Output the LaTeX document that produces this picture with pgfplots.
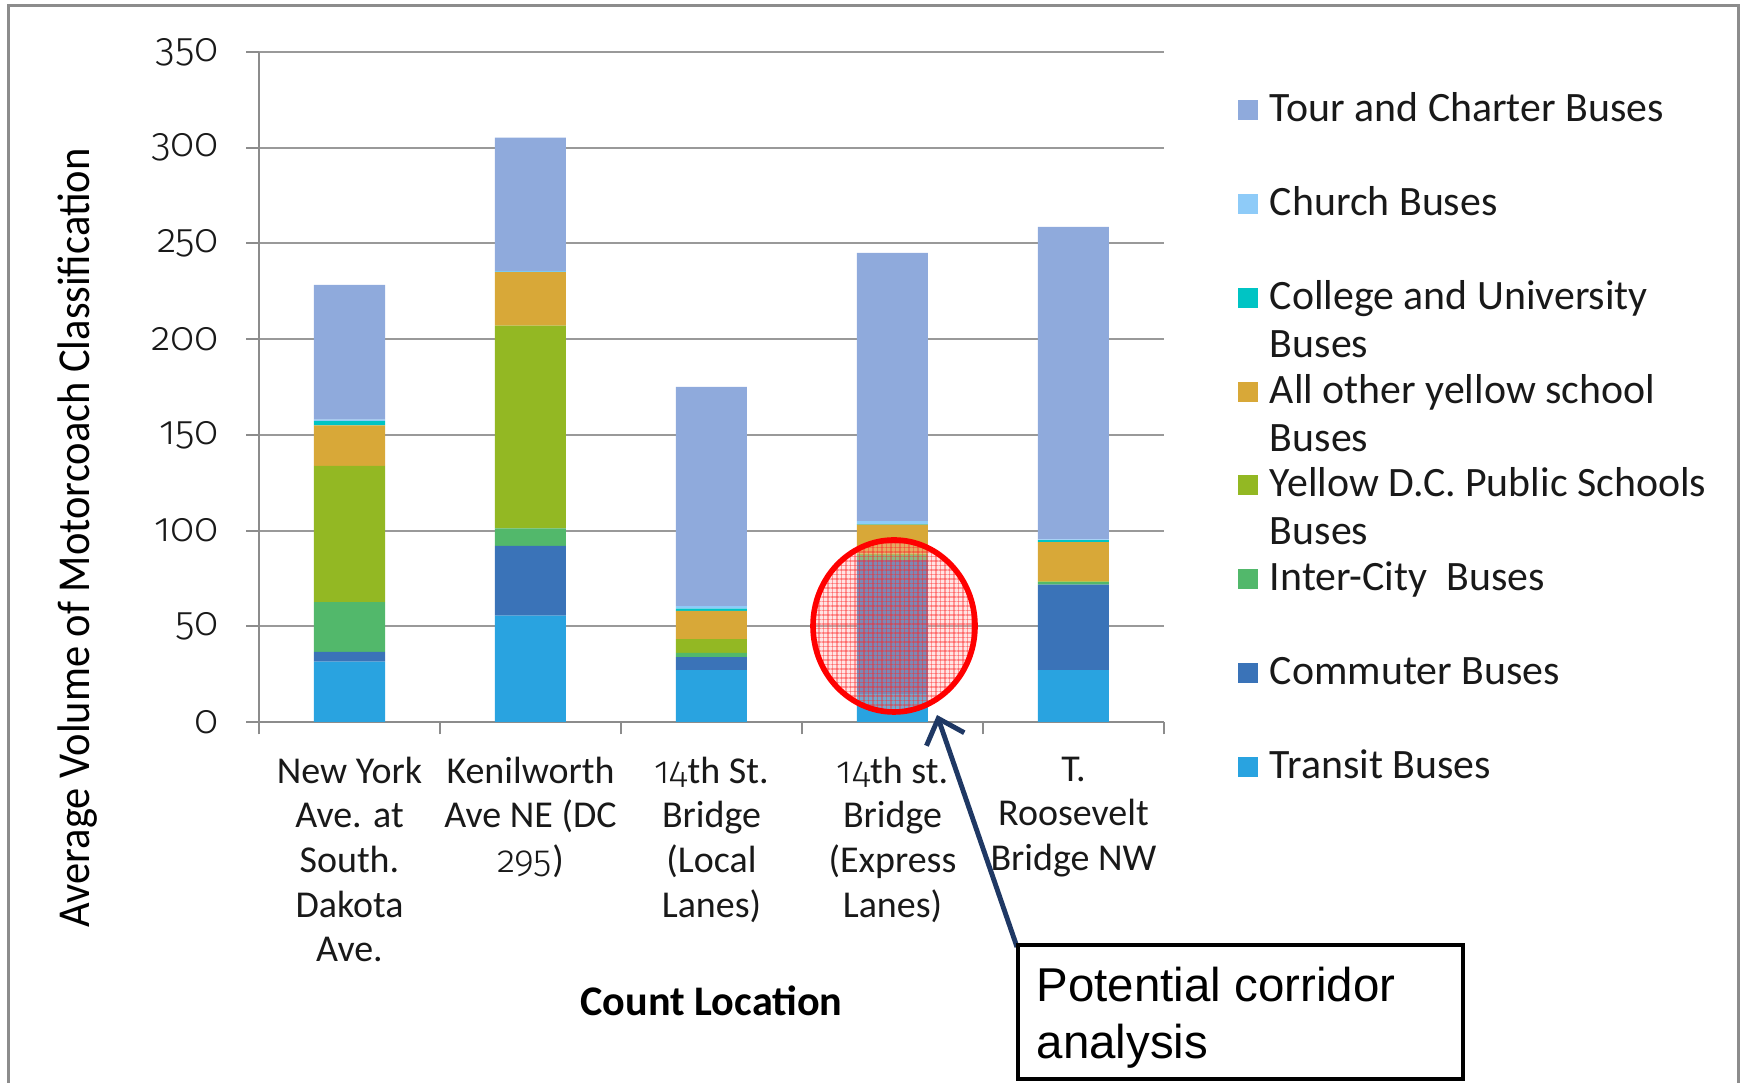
\documentclass[border=0pt]{standalone}
\usepackage{fontspec}
\setmainfont{Carlito}
\newfontfamily\numfont{Fira Sans Light}[Numbers=OldStyle]
\newfontfamily\arialfont{Liberation Sans}
\usepackage{pgfplots}
\pgfplotsset{compat=1.18}
\usetikzlibrary{patterns,patterns.meta,arrows.meta}

\definecolor{cTransit}{RGB}{41,163,224}
\definecolor{cCommuter}{RGB}{58,115,184}
\definecolor{cInter}{RGB}{82,184,107}
\definecolor{cYDC}{RGB}{147,184,35}
\definecolor{cOther}{RGB}{216,168,56}
\definecolor{cCollege}{RGB}{0,196,196}
\definecolor{cChurch}{RGB}{142,203,248}
\definecolor{cTour}{RGB}{143,170,220}
\definecolor{cArrow}{RGB}{31,56,100}

\newcommand{\lent}[1]{\smash{\raisebox{-1.4mm}{\parbox[t]{4.8cm}{\raggedright #1}}}}

\begin{document}
\begin{tikzpicture}[x=1cm,y=1cm]
\path[use as bounding box, clip] (0,0) rectangle (17.41,10.83);
\begin{axis}[
  at={(2.59cm,3.61cm)}, anchor=south west,
  scale only axis, width=9.05cm, height=6.70cm,
  ybar stacked, bar width=0.71cm,
  xmin=-0.5, xmax=4.5, ymin=0, ymax=350,
  ytick={0,50,...,350},
  xtick={-0.5,0.5,...,4.5},
  x tick label as interval,
  xticklabels={{New York\\Ave. at\\South.\\Dakota\\Ave.},{Kenilworth\\Ave NE (DC\\{\numfont 295})},{{\numfont 14}th St.\\Bridge\\(Local\\Lanes)},{{\numfont 14}th st.\\Bridge\\(Express\\Lanes)},{T.\\Roosevelt\\Bridge NW}},
  xticklabel style={align=center, font=\fontsize{10.8}{12.7}\selectfont, text=black!90, yshift=-1mm},
  yticklabel style={font=\numfont\fontsize{11.5}{13}\selectfont, text=black!90, xshift=-1.5mm},
  /pgf/number format/assume math mode=true,
  tick align=outside, major tick length=1.25mm,
  tick style={draw=black!45, line width=0.6pt},
  axis x line*=bottom, axis y line*=left,
  axis line style={draw=black!45, line width=0.6pt, -},
  ymajorgrids, major grid style={draw=black!40, line width=0.6pt},
  xlabel={\bfseries Count Location},
  xlabel style={at={(axis description cs:0.5,-0.416)}, anchor=center, font=\fontsize{12}{14}\selectfont},
  ylabel={\scalebox{0.93}[1]{Average Volume of Motorcoach Classification}},
  ylabel style={at={(axis description cs:-0.2,0.275)}, anchor=center, rotate=0, font=\fontsize{13}{15}\selectfont},
  legend style={at={(axis description cs:1.081,0.929)}, anchor=north west, draw=none, fill=none,
    inner sep=0pt, row sep=7.38mm, column sep=1.2mm,
    nodes={inner sep=0pt, font=\fontsize{11.9}{13.7}\selectfont, text=black!90}},
  legend cell align=left,
  reverse legend,
]
\addplot[fill=cTransit, draw=none, legend image code/.code={\fill[cTransit] (0,-1mm) rectangle (2mm,1mm);}]
  coordinates {(0,31.5) (1,55.6) (2,27.1) (3,14.5) (4,27.1)};
\addplot[fill=cCommuter, draw=none, legend image code/.code={\fill[cCommuter] (0,-1mm) rectangle (2mm,1mm);}]
  coordinates {(0,5.1) (1,36.4) (2,6.8) (3,70.0) (4,44.7)};
\addplot[fill=cInter, draw=none, legend image code/.code={\fill[cInter] (0,-1mm) rectangle (2mm,1mm);}]
  coordinates {(0,26.0) (1,9.2) (2,2.2) (3,2.7) (4,1.3)};
\addplot[fill=cYDC, draw=none, legend image code/.code={\fill[cYDC] (0,-1mm) rectangle (2mm,1mm);}]
  coordinates {(0,71.2) (1,105.9) (2,7.2) (3,0.8) (4,0.3)};
\addplot[fill=cOther, draw=none, legend image code/.code={\fill[cOther] (0,-1mm) rectangle (2mm,1mm);}]
  coordinates {(0,21.1) (1,27.9) (2,14.8) (3,15.1) (4,20.5)};
\addplot[fill=cCollege, draw=none, legend image code/.code={\fill[cCollege] (0,-1mm) rectangle (2mm,1mm);}]
  coordinates {(0,2.3) (1,0.2) (2,1.1) (3,0.3) (4,1.1)};
\addplot[fill=cChurch, draw=none, legend image code/.code={\fill[cChurch] (0,-1mm) rectangle (2mm,1mm);}]
  coordinates {(0,0.8) (1,0.5) (2,1.3) (3,1.5) (4,0.4)};
\addplot[fill=cTour, draw=none, legend image code/.code={\fill[cTour] (0,-1mm) rectangle (2mm,1mm);}]
  coordinates {(0,70.3) (1,69.5) (2,114.5) (3,140.1) (4,163.2)};
\legend{\lent{Transit Buses},\lent{Commuter Buses},\lent{Inter-City\ \ Buses},\lent{Yellow D.C. Public Schools\\Buses},\lent{All other yellow school\\Buses},\lent{College and University\\Buses},\lent{Church Buses},\lent{Tour and Charter Buses}}
\end{axis}
% outer frame
\draw[black!45, line width=0.3mm] (0.09,-0.2) -- (0.09,10.77) -- (17.38,10.77) -- (17.38,-0.2);
% highlight circle
\fill[red!30, opacity=0.35] (8.94,4.57) ellipse [x radius=0.81, y radius=0.86];
\fill[pattern={Lines[angle=0,distance=0.45mm,line width=0.12mm]}, pattern color=red!85, opacity=0.4] (8.94,4.57) ellipse [x radius=0.81, y radius=0.86];
\fill[pattern={Lines[angle=90,distance=0.45mm,line width=0.12mm]}, pattern color=red!85, opacity=0.4] (8.94,4.57) ellipse [x radius=0.81, y radius=0.86];
\draw[red, line width=1.6pt] (8.94,4.57) ellipse [x radius=0.81, y radius=0.86];
% arrow
\draw[cArrow, line width=1.4pt, -{Straight Barb[length=2.2mm, width=4mm, line width=1.4pt]}] (10.17,1.36) -- (9.37,3.68);
% box
\draw[black, line width=1pt] (10.18,0.04) rectangle (14.63,1.38);
\node[anchor=north west, align=left, font=\arialfont\fontsize{13.5}{16.4}\selectfont, inner sep=0pt] at (10.36,1.17) {Potential corridor\\analysis};
\end{tikzpicture}
\end{document}
